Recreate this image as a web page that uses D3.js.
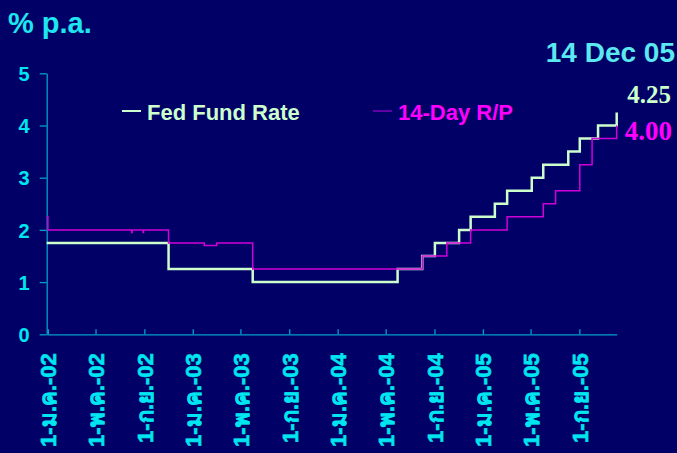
<!DOCTYPE html>
<html>
<head>
<meta charset="utf-8">
<script src="https://cdn.jsdelivr.net/npm/d3@7"></script>
<style>
  body { margin: 0; background: #000066; }
  svg { display: block; }
  .axis path, .axis line { stroke: #00a0c8; stroke-width: 1.3; }
  .axis text { fill: #00e6f0; font-family: "Liberation Sans", Arial, sans-serif; font-weight: bold; }
</style>
</head>
<body>
<div id="chart"></div>
<script>
// tick labels along the bottom (Thai month abbreviations)
var tickDates = ["2002-01-01","2002-05-01","2002-09-01","2003-01-01","2003-05-01","2003-09-01",
                 "2004-01-01","2004-05-01","2004-09-01","2005-01-01","2005-05-01","2005-09-01"];
var tickLabels = ["1-ม.ค.-02","1-พ.ค.-02","1-ก.ย.-02","1-ม.ค.-03","1-พ.ค.-03","1-ก.ย.-03",
                  "1-ม.ค.-04","1-พ.ค.-04","1-ก.ย.-04","1-ม.ค.-05","1-พ.ค.-05","1-ก.ย.-05"];
var yTicks = [0, 1, 2, 3, 4, 5];

// Fed Fund Rate, change dates and levels
var fedDates = ["2001-12-29","2002-11-01","2003-06-01","2004-05-31","2004-08-01","2004-09-02",
                "2004-11-02","2004-12-01","2005-01-31","2005-03-03","2005-05-04","2005-06-02",
                "2005-08-04","2005-09-02","2005-10-18","2005-12-04"];
var fedRates = [1.75,1.25,1.00,1.25,1.50,1.75,2.00,2.25,2.50,2.75,3.00,3.25,3.50,3.75,4.00,4.25];

// 14-Day R/P, change dates and levels
var rpDates = ["2001-12-29","2002-01-01","2002-07-31","2002-08-01","2002-08-29","2002-08-30",
               "2002-11-01","2003-01-30","2003-03-02","2003-06-01","2004-08-01","2004-10-02",
               "2004-12-01","2005-03-03","2005-06-02","2005-07-03","2005-09-02","2005-10-03","2005-12-04"];
var rpRates = [2.25,2.00,1.95,2.00,1.95,2.00,1.75,1.70,1.75,1.25,1.50,1.75,2.00,2.25,2.50,2.75,3.25,3.75,4.00];

var width = 677, height = 453;
var parse = d3.timeParse("%Y-%m-%d");

var xScale = d3.scaleTime()
    .domain([parse("2001-12-29"), parse("2005-12-04")])
    .range([46.7, 616.7]);
var yScale = d3.scaleLinear().domain([0, 5]).range([334.3, 73.3]);

var svg = d3.select("#chart").append("svg")
    .attr("width", width)
    .attr("height", height);

svg.append("rect").attr("width", width).attr("height", height).attr("fill", "#000066");

// y axis
var yAxis = d3.axisLeft(yScale).tickValues(yTicks).tickSize(7).tickSizeOuter(0).tickPadding(10)
    .tickFormat(d3.format("d"));
svg.append("g")
    .attr("class", "axis")
    .attr("transform", "translate(46.7,0)")
    .call(yAxis)
    .selectAll("text")
    .style("font-size", "20px")
    .attr("dy", "0.36em");

// x axis, ticks pointing up into the plot
var xAxis = d3.axisBottom(xScale)
    .tickValues(tickDates.map(parse))
    .tickSizeInner(-5).tickSizeOuter(0)
    .tickFormat(function(d, i) { return tickLabels[i]; });
svg.append("g")
    .attr("class", "axis")
    .attr("transform", "translate(0,334.3)")
    .call(xAxis)
    .selectAll("text")
    .style("font-size", "22px")
    .attr("stroke", "#00e6f0")
    .attr("stroke-width", 0.6)
    .attr("text-anchor", "end")
    .attr("transform", "rotate(-90)")
    .attr("x", -19)
    .attr("y", 0)
    .attr("dy", "0.36em");

function series(dates, rates) {
  return dates.map(function(d, i) { return {date: parse(d), value: rates[i]}; });
}

var line = d3.line()
    .curve(d3.curveStepAfter)
    .x(function(d) { return xScale(d.date); })
    .y(function(d) { return yScale(d.value); });

svg.append("path")
    .datum(series(fedDates, fedRates))
    .attr("fill", "none")
    .attr("stroke", "#ccffcc")
    .attr("stroke-width", 2.5)
    .attr("d", line);

svg.append("path")
    .datum(series(rpDates, rpRates))
    .attr("fill", "none")
    .attr("stroke", "#d000d8")
    .attr("stroke-width", 1.5)
    .attr("d", line);

// titles
svg.append("text")
    .attr("x", 8).attr("y", 33)
    .attr("fill", "#1ee6f0")
    .style("font", "bold 29px 'Liberation Sans', Arial, sans-serif")
    .text("% p.a.");

svg.append("text")
    .attr("x", 675).attr("y", 61.7)
    .attr("text-anchor", "end")
    .attr("fill", "#5ce8f0")
    .style("font", "bold 28px 'Liberation Sans', Arial, sans-serif")
    .text("14 Dec 05");

svg.append("text")
    .attr("x", 671).attr("y", 102.7)
    .attr("text-anchor", "end")
    .attr("fill", "#ccffcc")
    .style("font", "bold 25px 'Liberation Serif', 'Times New Roman', serif")
    .text("4.25");

svg.append("text")
    .attr("x", 672).attr("y", 140)
    .attr("text-anchor", "end")
    .attr("fill", "#ff00ff")
    .style("font", "bold 27px 'Liberation Serif', 'Times New Roman', serif")
    .text("4.00");

// legend
var legend = [
  {label: "Fed Fund Rate", x: 122, line: "#ccffcc", text: "#ccffcc", w: 2},
  {label: "14-Day R/P", x: 373, line: "#a000d0", text: "#ff00ff", w: 1.2}
];
var lg = svg.selectAll(".legend").data(legend).enter().append("g")
    .attr("class", "legend")
    .attr("transform", function(d) { return "translate(" + d.x + ",111)"; });
lg.append("line")
    .attr("x1", 0).attr("x2", 19)
    .attr("stroke", function(d) { return d.line; })
    .attr("stroke-width", function(d) { return d.w; });
lg.append("text")
    .attr("x", 25).attr("y", 9)
    .attr("fill", function(d) { return d.text; })
    .style("font", "bold 22px 'Liberation Sans', Arial, sans-serif")
    .text(function(d) { return d.label; });
</script>
</body>
</html>
